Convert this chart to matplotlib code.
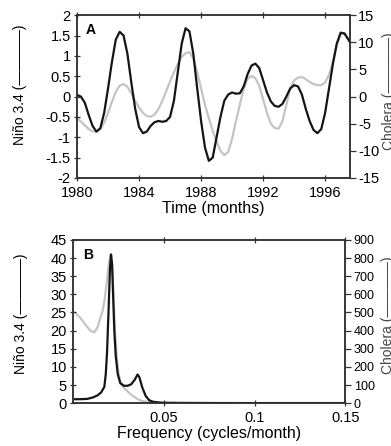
import numpy as np
import matplotlib
matplotlib.use("Agg")
import matplotlib.pyplot as plt

plt.rcParams['font.family'] = ['Liberation Sans', 'DejaVu Sans']
plt.rcParams['axes.unicode_minus'] = False

# Panel A: time series (quarter-year samples)
years = np.arange(1980, 1997.76, 0.25)
nino = [0.04, 0.00, -0.15, -0.45, -0.72, -0.86, -0.78, -0.40,
        0.20, 0.85, 1.40, 1.59, 1.50, 1.05, 0.35, -0.30,
        -0.75, -0.90, -0.86, -0.72, -0.63, -0.60, -0.62, -0.60,
        -0.50, -0.10, 0.60, 1.30, 1.68, 1.60, 1.05, 0.20,
        -0.60, -1.25, -1.58, -1.50, -1.00, -0.50, -0.10, 0.05,
        0.10, 0.07, 0.08, 0.25, 0.55, 0.76, 0.81, 0.70,
        0.40, 0.10, -0.12, -0.23, -0.25, -0.18, 0.00, 0.20,
        0.28, 0.25, 0.05, -0.30, -0.60, -0.82, -0.90, -0.80,
        -0.40, 0.20, 0.80, 1.30, 1.57, 1.55, 1.40, 1.25]
cholera = [-4.0, -4.6, -5.3, -6.0, -6.4, -6.5, -6.0, -4.8,
           -3.0, -1.0, 0.9, 2.0, 2.3, 1.8, 0.6, -0.8,
           -2.0, -3.0, -3.6, -3.7, -3.3, -2.3, -0.8, 1.0,
           2.8, 4.5, 6.0, 7.3, 8.0, 8.2, 7.0, 4.5,
           1.5, -1.5, -4.0, -6.3, -8.3, -10.0, -10.8, -10.2,
           -7.8, -4.5, -1.5, 1.5, 3.3, 3.8, 3.4, 2.0,
           -0.5, -3.0, -5.0, -5.8, -5.9, -4.5, -1.5, 1.5,
           3.0, 3.5, 3.6, 3.2, 2.7, 2.3, 2.1, 2.1,
           2.6, 4.0, 6.5, 9.5, 11.4, 11.6, 10.5, 9.6]

# Panel B: power spectra
freq_n = [0.001, 0.004, 0.008, 0.011, 0.0136, 0.0155, 0.0172, 0.0180, 0.0187,
          0.0195, 0.0203, 0.0209, 0.0215, 0.0221, 0.0227, 0.0235, 0.0246,
          0.026, 0.028, 0.030, 0.032, 0.034, 0.0355, 0.0365, 0.038, 0.040,
          0.042, 0.044, 0.047, 0.05, 0.06, 0.08, 0.1, 0.12, 0.15]
pow_n = [1.1, 1.1, 1.2, 1.6, 2.2, 3.0, 4.5, 8.0, 14.0,
         25.0, 37.0, 41.0, 38.0, 29.0, 20.0, 13.0, 8.0,
         5.5, 4.8, 4.8, 5.2, 6.5, 7.9, 7.2, 4.5, 2.0,
         0.8, 0.4, 0.2, 0.1, 0.05, 0.02, 0.01, 0.01, 0.01]
freq_c = [0.001, 0.004, 0.007, 0.0095, 0.0117, 0.0135, 0.015, 0.0163, 0.0175,
          0.0187, 0.0197, 0.0207, 0.0215, 0.0222, 0.0230, 0.024, 0.025, 0.026,
          0.0275, 0.0295, 0.0315, 0.0337, 0.036, 0.038, 0.042, 0.05, 0.07,
          0.1, 0.15]
pow_c = [500, 470, 430, 400, 390, 420, 470, 510, 580,
         680, 770, 820, 780, 600, 420, 260, 170, 120,
         90, 70, 50, 35, 20, 12, 6, 3, 2,
         1, 1]

black = '#151515'
gray = '#c4c4c4'
spine = '#333333'

fig = plt.figure(figsize=(3.91, 4.46), dpi=100)


def style(ax, tw, tick_size, right_size):
    for a in (ax, tw):
        for s in a.spines.values():
            s.set_color(spine)
            s.set_linewidth(1.1)
    ax.tick_params(axis='both', direction='inout', length=5, width=0.9,
                   color=spine, labelsize=tick_size, top=True, pad=2)
    ax.tick_params(axis='x', pad=3)
    tw.tick_params(axis='y', direction='out', length=4, width=0.9,
                   color=spine, labelsize=right_size, pad=2)


# ---- A ----
axA = fig.add_axes([0.197, 0.601, 0.698, 0.365])
twA = axA.twinx()
twA.plot(years, cholera, color=gray, lw=1.6)
axA.plot(years, nino, color=black, lw=1.6)
axA.set_zorder(twA.get_zorder() + 1)
axA.patch.set_visible(False)
axA.set_xlim(1980, 1997.6)
axA.set_ylim(-2, 2)
twA.set_ylim(-15, 15)
axA.set_xticks([1980, 1984, 1988, 1992, 1996])
axA.set_yticks(np.arange(-2, 2.01, 0.5))
axA.set_yticklabels(['-2', '-1.5', '-1', '-0.5', '0', '0.5', '1', '1.5', '2'])
twA.set_yticks(np.arange(-15, 16, 5))
style(axA, twA, 10.5, 10.5)
axA.set_xlabel('Time (months)', fontsize=11.5, labelpad=1)
axA.set_ylabel('Niño 3.4 (————)', fontsize=10)
axA.yaxis.set_label_coords(-0.183, 0.57)
twA.set_ylabel('Cholera (————)', fontsize=10, color='#444444',
               rotation=90, va='center')
twA.yaxis.set_label_coords(1.143, 0.53)
axA.text(0.03, 0.95, 'A', transform=axA.transAxes, fontsize=10,
         fontweight='bold', va='top', ha='left')

# ---- B ----
axB = fig.add_axes([0.187, 0.096, 0.696, 0.366])
twB = axB.twinx()
twB.plot(freq_c, pow_c, color=gray, lw=1.6)
axB.plot(freq_n, pow_n, color=black, lw=1.6)
axB.set_zorder(twB.get_zorder() + 1)
axB.patch.set_visible(False)
axB.set_xlim(0, 0.15)
axB.set_ylim(0, 45)
twB.set_ylim(0, 900)
axB.set_xticks([0.05, 0.1, 0.15])
axB.set_xticklabels(['0.05', '0.1', '0.15'])
axB.set_yticks(np.arange(0, 46, 5))
twB.set_yticks(np.arange(0, 901, 100))
style(axB, twB, 10.5, 9)
axB.set_xlabel('Frequency (cycles/month)', fontsize=11.5, labelpad=1)
axB.set_ylabel('Niño 3.4 (————)', fontsize=10)
axB.yaxis.set_label_coords(-0.165, 0.55)
twB.set_ylabel('Cholera (————)', fontsize=10, color='#444444',
               rotation=90, va='center')
twB.yaxis.set_label_coords(1.158, 0.54)
axB.text(0.035, 0.95, 'B', transform=axB.transAxes, fontsize=10,
         fontweight='bold', va='top', ha='left')

fig.savefig('out.png', dpi=100)
